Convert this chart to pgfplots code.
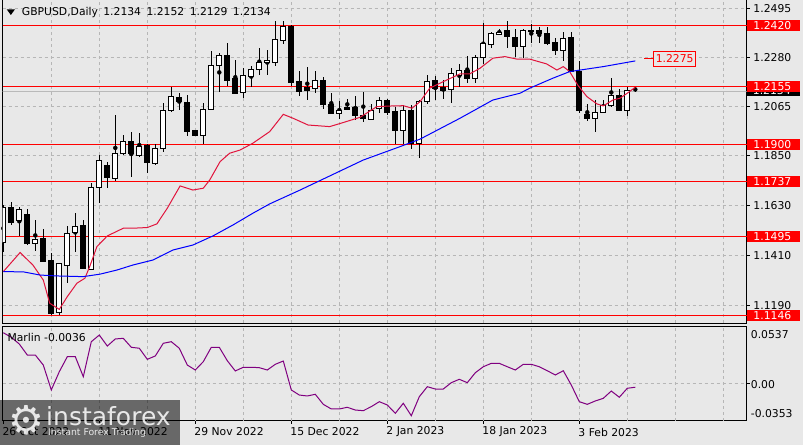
\documentclass[border=0pt]{standalone}
\usepackage{pgfplots}
\pgfplotsset{compat=1.18}
\usepackage{pgfplotstable}
\usepackage{fontspec}
\setmainfont{DejaVu Sans}
\definecolor{bg}{RGB}{232,232,232}
\definecolor{gridc}{RGB}{182,182,182}
\definecolor{mared}{RGB}{225,20,60}
\definecolor{mablue}{RGB}{0,0,255}
\definecolor{marlin}{RGB}{128,0,128}
\definecolor{lvl}{RGB}{255,0,0}
\newcommand{\lab}{\fontsize{10.8}{13}\selectfont}

\pgfplotstableread{
i o h l c
0 1.1467 1.1632 1.1427 1.1622
1 1.1622 1.1647 1.1544 1.1555
2 1.1562 1.1625 1.1496 1.1613
3 1.1591 1.1613 1.1456 1.1461
4 1.1464 1.1566 1.1431 1.1481
5 1.1483 1.1525 1.1381 1.1383
6 1.1386 1.1420 1.1148 1.1153
7 1.1160 1.1378 1.1148 1.1376
8 1.1365 1.1540 1.1288 1.1508
9 1.1512 1.1596 1.1427 1.1537
10 1.1540 1.1566 1.1350 1.1352
11 1.1350 1.1731 1.1348 1.1710
12 1.1710 1.1852 1.1643 1.1830
13 1.1804 1.1823 1.1706 1.1753
14 1.1750 1.2028 1.1739 1.1860
15 1.1860 1.1940 1.1852 1.1911
16 1.1911 1.1955 1.1757 1.1860
17 1.1852 1.1948 1.1844 1.1889
18 1.1896 1.1901 1.1775 1.1819
19 1.1816 1.1901 1.1808 1.1882
20 1.1882 1.2080 1.1867 1.2050
21 1.2047 1.2153 1.2043 1.2109
22 1.2106 1.2124 1.2050 1.2087
23 1.2084 1.2116 1.1936 1.1955
24 1.1958 1.1962 1.1938 1.1940
25 1.1940 1.2083 1.1901 1.2053
26 1.2053 1.2311 1.2050 1.2244
27 1.2245 1.2300 1.2131 1.2288
28 1.2288 1.2347 1.2156 1.2182
29 1.2187 1.2270 1.2119 1.2121
30 1.2127 1.2234 1.2105 1.2200
31 1.2197 1.2244 1.2150 1.2230
32 1.2230 1.2322 1.2204 1.2260
33 1.2260 1.2314 1.2204 1.2270
34 1.2260 1.2443 1.2244 1.2362
35 1.2355 1.2443 1.2340 1.2417
36 1.2417 1.2424 1.2156 1.2171
37 1.2175 1.2222 1.2112 1.2131
38 1.2147 1.2238 1.2094 1.2138
39 1.2143 1.2222 1.2124 1.2178
40 1.2178 1.2194 1.2053 1.2076
41 1.2076 1.2127 1.2033 1.2036
42 1.2036 1.2091 1.2009 1.2046
43 1.2061 1.2098 1.2052 1.2053
44 1.2061 1.2112 1.2006 1.2024
45 1.2028 1.2131 1.1999 1.2014
46 1.2009 1.2077 1.2007 1.2050
47 1.2055 1.2109 1.2039 1.2090
48 1.2091 1.2098 1.2028 1.2040
49 1.2042 1.2065 1.1901 1.1962
50 1.1962 1.2072 1.1901 1.2050
51 1.2050 1.2072 1.1878 1.1904
52 1.1904 1.2094 1.1839 1.2087
53 1.2087 1.2204 1.2076 1.2175
54 1.2179 1.2200 1.2094 1.2146
55 1.2149 1.2182 1.2098 1.2138
56 1.2142 1.2234 1.2083 1.2209
57 1.2204 1.2252 1.2150 1.2226
58 1.2226 1.2288 1.2168 1.2190
59 1.2190 1.2292 1.2168 1.2282
60 1.2282 1.2432 1.2252 1.2341
61 1.2340 1.2392 1.2322 1.2385
62 1.2384 1.2405 1.2380 1.2392
63 1.2398 1.2443 1.2322 1.2373
64 1.2370 1.2407 1.2285 1.2329
65 1.2329 1.2405 1.2278 1.2398
66 1.2401 1.2429 1.2344 1.2395
67 1.2402 1.2417 1.2344 1.2388
68 1.2388 1.2417 1.2336 1.2344
69 1.2347 1.2366 1.2292 1.2314
70 1.2314 1.2395 1.2267 1.2366
71 1.2370 1.2395 1.2218 1.2219
72 1.2219 1.2266 1.2036 1.2047
73 1.2032 1.2077 1.2003 1.2011
74 1.2014 1.2094 1.1955 1.2040
75 1.2040 1.2094 1.2039 1.2068
76 1.2068 1.2190 1.2065 1.2116
77 1.2116 1.2142 1.2050 1.2050
78 1.2050 1.2150 1.2024 1.2135
79 1.2134 1.2152 1.2129 1.2134
}\candles

\pgfplotstableread{
i v
0 1.1339
2.1 1.1423
3.7 1.1368
5.0 1.1302
5.8 1.1200
7.0 1.1173
8.0 1.1229
9.2 1.1288
10.2 1.1310
10.8 1.1361
11.7 1.1449
13.0 1.1496
15.0 1.1530
16.2 1.1530
18.0 1.1533
19.2 1.1549
20.5 1.1618
22.1 1.1716
23.7 1.1698
25.0 1.1706
25.8 1.1742
27.1 1.1823
28.3 1.1860
29.6 1.1874
31.2 1.1904
33.3 1.1955
35.0 1.2031
36.2 1.2014
38.1 1.1984
40.8 1.1977
42.5 1.1995
44.6 1.2018
46.7 1.2065
48.7 1.2068
50.0 1.2069
51.1 1.2058
52.1 1.2087
53.3 1.2146
55.0 1.2175
57.1 1.2209
58.3 1.2209
59.6 1.2234
61.2 1.2278
62.7 1.2285
64.2 1.2274
65.8 1.2274
67.9 1.2253
69.2 1.2226
70.0 1.2241
70.8 1.2219
71.8 1.2160
72.95 1.2109
74.2 1.2077
75.0 1.2068
76.2 1.2094
77.1 1.2102
78.0 1.2124
79.0 1.2150
}\redma

\pgfplotstableread{
i v
0 1.1339
2.5 1.1338
4.6 1.1324
6.7 1.1320
10.0 1.1317
12.1 1.1328
14.2 1.1346
16.2 1.1368
18.7 1.1390
21.2 1.1434
23.7 1.1456
26.2 1.1496
28.7 1.1544
31.2 1.1596
33.3 1.1637
37.1 1.1698
45.0 1.1830
49.6 1.1889
52.1 1.1922
57.1 1.2014
61.2 1.2094
64.6 1.2124
65.8 1.2146
68.7 1.2190
70.8 1.2219
75.0 1.2241
79.0 1.2266
}\bluema

\pgfplotstableread{
i v
0 0.0480
1 0.0437
2 0.0373
3 0.0269
4 0.0269
5 0.0174
6 -0.0062
7 0.0111
8 0.0253
9 0.0253
10 0.0064
11 0.0395
12 0.0458
13 0.0354
14 0.0421
15 0.0427
16 0.0342
17 0.0333
18 0.0228
19 0.0260
20 0.0380
21 0.0395
22 0.0333
23 0.0174
24 0.0127
25 0.0206
26 0.0342
27 0.0342
28 0.0215
29 0.0118
30 0.0153
31 0.0153
32 0.0149
33 0.0127
34 0.0181
35 0.0212
36 -0.0062
37 -0.0110
38 -0.0119
39 -0.0103
40 -0.0198
41 -0.0242
42 -0.0242
43 -0.0226
44 -0.0252
45 -0.0258
46 -0.0220
47 -0.0173
48 -0.0204
49 -0.0283
50 -0.0188
51 -0.0306
52 -0.0126
53 -0.0031
54 -0.0053
55 -0.0053
56 0.0007
57 0.0039
58 0.0007
59 0.0101
60 0.0158
61 0.0190
62 0.0190
63 0.0158
64 0.0127
65 0.0181
66 0.0181
67 0.0158
68 0.0120
69 0.0080
70 0.0120
71 -0.0015
72 -0.0173
73 -0.0198
74 -0.0166
75 -0.0141
76 -0.0072
77 -0.0131
78 -0.0046
79 -0.0036
}\marlindata

\pgfplotsset{
  mainpanel/.style={at={(2.7pt,122pt)}, anchor=south west, scale only axis,
    width=744pt, height=323pt, xmin=-0.075, xmax=92.925, ymin=1.1113, ymax=1.2534},
}

\begin{document}
\begin{tikzpicture}
\useasboundingbox (0pt,0pt) rectangle (803pt,445pt);
\fill[bg] (0pt,0pt) rectangle (803pt,445pt);

% ---------- current-price label (underneath the level labels)
\begin{axis}[mainpanel, hide axis, clip mode=individual]
\addplot[draw=none] coordinates {(0,1.2134)};
\node[fill=black, text=white, font=\lab, anchor=west, inner xsep=6pt, inner ysep=0pt,
  text width=40.7pt, minimum height=11pt] at (axis cs:92.925,1.2134) {1.2134};
\end{axis}

% ---------- main panel: grid, levels, wicks, labels
\begin{axis}[mainpanel,
  clip mode=individual,
  axis line style={black, line width=1pt},
  xtick={6,12,...,90}, xticklabels={}, xmajorgrids=true,
  xtick style={draw=none},
  ytick={1.1190,1.1410,1.1630,1.1850,1.2065,1.2280,1.2495},
  ymajorgrids=true, ytick pos=right, yticklabel pos=right,
  ytick style={black, line width=0.8pt},
  tick align=outside, major tick length=3pt,
  grid style={gridc, dash pattern=on 3pt off 3pt, line width=0.8pt},
  yticklabel style={font=\lab, anchor=west, inner sep=0pt, xshift=3.6pt,
    /pgf/number format/fixed, /pgf/number format/fixed zerofill,
    /pgf/number format/precision=4, /pgf/number format/assume math mode=true},
  extra y ticks={1.1146,1.1495,1.1737,1.1900,1.2155,1.2420},
  extra y tick style={ymajorgrids=true,
    major grid style={lvl, solid, line width=1pt},
    yticklabel style={fill=lvl, text=white, inner xsep=6pt, inner ysep=0pt,
      text width=40.7pt, minimum height=11pt, xshift=-6pt}},
]
\addplot[gray!55, line width=0.8pt] coordinates {(-1,1.2134) (95,1.2134)};
\addplot[black, only marks, mark=none,
  error bars/.cd, y dir=both, y explicit, error mark=none,
  error bar style={black, line width=1pt}]
  table[x=i, y expr={(\thisrow{h}+\thisrow{l})/2},
        y error expr={(\thisrow{h}-\thisrow{l})/2}] {\candles};
\end{axis}

% ---------- candle bodies
\begin{axis}[mainpanel, hide axis, ybar stacked, bar width=5pt]
\addplot[draw=none, fill=none] table[x=i, y expr={min(\thisrow{o},\thisrow{c})}] {\candles};
\addplot[draw=black, fill=white, line width=1pt] table[x=i, y expr={max(\thisrow{c}-\thisrow{o},0)}] {\candles};
\addplot[draw=black, fill=black, line width=1pt] table[x=i, y expr={max(\thisrow{o}-\thisrow{c},0)}] {\candles};
\end{axis}

% ---------- moving averages and alert label
\begin{axis}[mainpanel, hide axis, clip mode=individual]
\addplot[mared, line width=1pt] table[x=i, y=v] {\redma};
\addplot[mablue, line width=1pt] table[x=i, y=v] {\bluema};
\addplot[lvl, line width=1pt] coordinates {(80.1,1.2275) (81.25,1.2275)};
\node[draw=lvl, line width=1pt, text=lvl, fill=bg, font=\lab, anchor=west,
  inner xsep=2pt, inner ysep=0pt, minimum height=15pt] at (axis cs:81.25,1.2275) {1.2275};
\end{axis}

% ---------- indicator panel
\begin{axis}[at={(2.7pt,24.3pt)}, anchor=south west, scale only axis,
  width=744pt, height=94pt, xmin=-0.075, xmax=92.925, ymin=-0.0353, ymax=0.0537,
  clip mode=individual, scaled y ticks=false, scaled x ticks=false,
  axis line style={black, line width=1pt},
  xtick={0,12,...,72},
  xticklabels={26 Oct 2022,11 Nov 2022,29 Nov 2022,15 Dec 2022,2 Jan 2023,18 Jan 2023,3 Feb 2023},
  xtick pos=lower,
  xticklabel style={font=\lab, anchor=west, inner sep=0pt, yshift=-8.3pt, xshift=-1pt},
  extra x ticks={6,12,...,90}, extra x tick labels={},
  extra x tick style={xmajorgrids=true, xtick style={draw=none}},
  ytick={0}, yticklabels={}, ymajorgrids=true, ytick pos=right,
  grid style={gridc, dash pattern=on 3pt off 3pt, line width=0.8pt},
  tick align=outside, major tick length=3pt, tick style={black, line width=0.8pt},
]
\addplot[marlin, line width=1pt] table[x=i, y=v] {\marlindata};
\node[font=\lab, anchor=west, inner sep=0pt, xshift=4.6pt] at (rel axis cs:0,0.89) {Marlin -0.0036};
\node[font=\lab, anchor=west, inner sep=0pt, xshift=4pt] at (rel axis cs:1,0.912) {0.0537};
\node[font=\lab, anchor=west, inner sep=0pt, xshift=4pt] at (rel axis cs:1,0.385) {0.00};
\node[font=\lab, anchor=west, inner sep=0pt, xshift=4pt] at (rel axis cs:1,0.0713) {-0.0353};
\end{axis}

% ---------- header
\fill[black] (6.7pt,435.7pt) -- (15pt,435.7pt) -- (10.85pt,430pt) -- cycle;
\node[font=\lab, anchor=west, inner sep=0pt] at (21.7pt,432.3pt)
  {GBPUSD,Daily\hspace{5.3pt}1.2134\hspace{2pt} 1.2152\hspace{2pt} 1.2129\hspace{2pt} 1.2134};

% ---------- watermark
\fill[black, opacity=0.55] (0pt,0pt) rectangle (180pt,45pt);
\node[text=white, opacity=0.85, font=\fontsize{40}{40}\selectfont, inner sep=0pt] at (26.7pt,25pt) {⚙};
\node[text=white, opacity=0.85, font=\fontsize{25}{25}\selectfont, anchor=base west, inner sep=0pt] at (46pt,20pt) {instaforex};
\node[text=white, opacity=0.85, font=\fontsize{9.3}{10}\selectfont, anchor=base west, inner sep=0pt] at (48pt,10pt) {Instant Forex Trading};
\end{tikzpicture}
\end{document}
